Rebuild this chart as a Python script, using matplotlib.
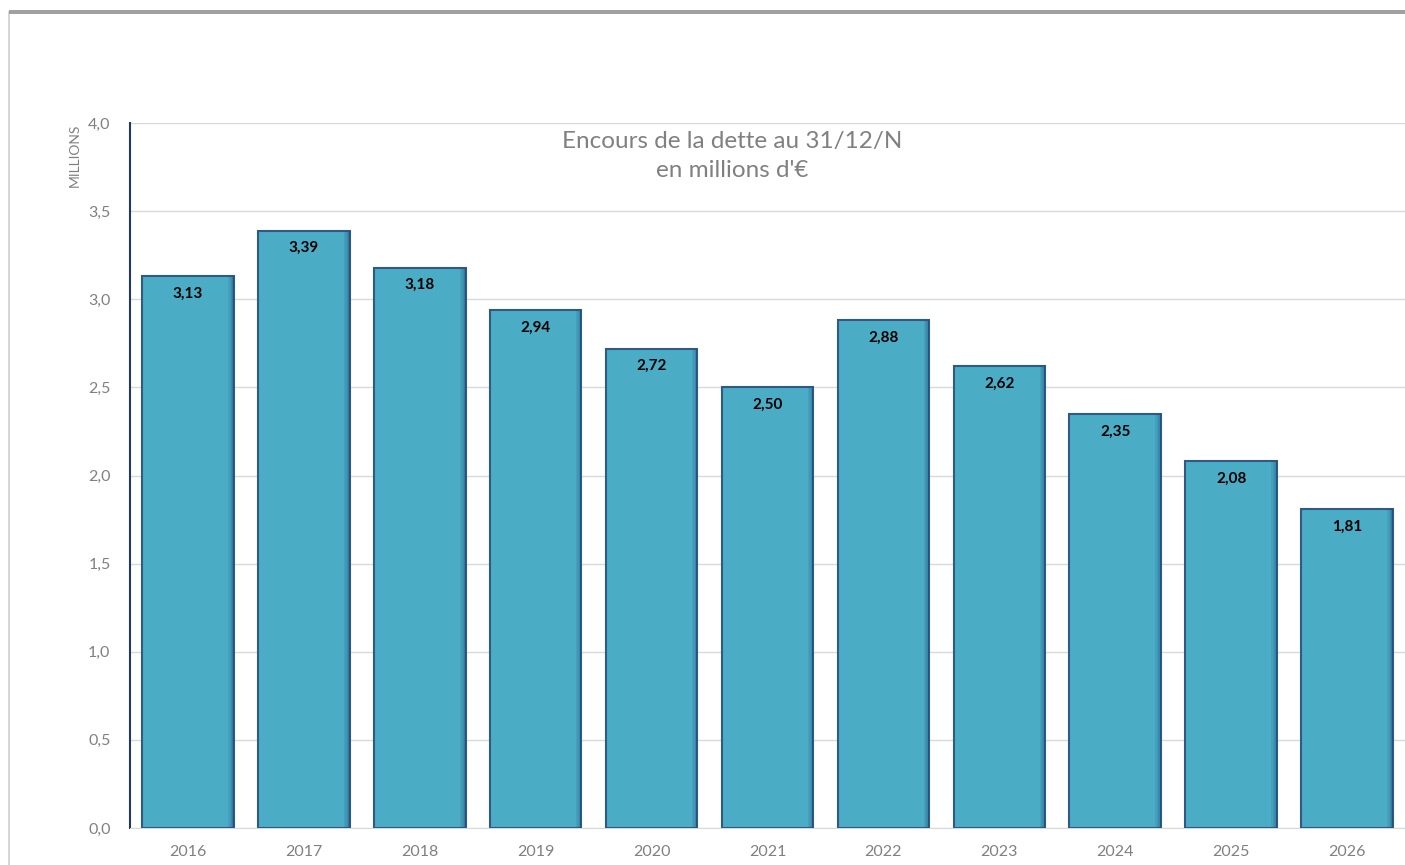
import matplotlib
matplotlib.use("Agg")
import matplotlib.pyplot as plt
from matplotlib.patches import Rectangle
from matplotlib.lines import Line2D
import numpy as np

plt.rcParams['font.family'] = ['Lato', 'DejaVu Sans']

years = ["2016", "2017", "2018", "2019", "2020", "2021", "2022", "2023", "2024", "2025", "2026"]
encours = [3.13, 3.39, 3.18, 2.94, 2.72, 2.50, 2.88, 2.62, 2.35, 2.08, 1.81]
yticks = [0.0, 0.5, 1.0, 1.5, 2.0, 2.5, 3.0, 3.5, 4.0]

fig = plt.figure(figsize=(14.05, 8.65), dpi=100)

# frame of the chart area (shadow line at top, light border at left)
fig.add_artist(Line2D([9 / 1405, 9 / 1405], [0, 1 - 12 / 865], transform=fig.transFigure,
                      color='#d0d0d0', linewidth=1.2, zorder=0))
fig.add_artist(Rectangle((9 / 1405, 1 - 14 / 865), 1, 4 / 865, transform=fig.transFigure,
                         facecolor='#a0a0a0', edgecolor='none', zorder=1))

ax = fig.add_axes([130 / 1405, 1 - 828 / 865, 1 - 130 / 1405, (828 - 123) / 865])
x = np.arange(len(years))
w = 0.79
bars = ax.bar(x, encours, width=w, color='#4BACC6', edgecolor='#2F5A85', linewidth=1.5, zorder=3)
# darker shading on the right side of each bar
for i, v in enumerate(encours):
    for k, a in enumerate([0.12, 0.22, 0.35, 0.5]):
        ax.bar(x[i] + w / 2 - 0.012 * (4 - k), v, width=0.012, color='#1F4E79', alpha=a,
               edgecolor='none', zorder=3.5, align='edge')

for i, v in enumerate(encours):
    ax.text(x[i], v - 0.06, f"{v:.2f}".replace('.', ','), ha='center', va='top',
            fontsize=11, fontweight='bold', color='black', zorder=5)

ax.set_xlim(-0.5, len(years) - 0.5)
ax.set_ylim(0, 4.0)
ax.set_yticks(yticks)
ax.set_yticklabels([f"{t:.1f}".replace('.', ',') for t in yticks])
ax.set_xticks(x)
ax.set_xticklabels(years)
ax.tick_params(axis='both', length=0, labelsize=11.5, colors='#808080')
ax.tick_params(axis='x', pad=12)
ax.tick_params(axis='y', pad=14)
ax.grid(axis='y', color='#d9d9d9', linewidth=1, zorder=0)
for s in ['top', 'right']:
    ax.spines[s].set_visible(False)
ax.spines['bottom'].set_color('#d9d9d9')
ax.spines['left'].set_color('#1F3864')
ax.spines['left'].set_linewidth(1.5)

fig.text(75 / 1405, 1 - 124 / 865, "MILLIONS", rotation=90, ha='center', va='top',
         fontsize=10, color='#808080')
ax.text(0.472, 0.988, "Encours de la dette au 31/12/N\nen millions d'\u20ac", transform=ax.transAxes,
        ha='center', va='top', fontsize=17.5, color='#808080', linespacing=1.45, zorder=6)

fig.savefig("out.png", dpi=100)
